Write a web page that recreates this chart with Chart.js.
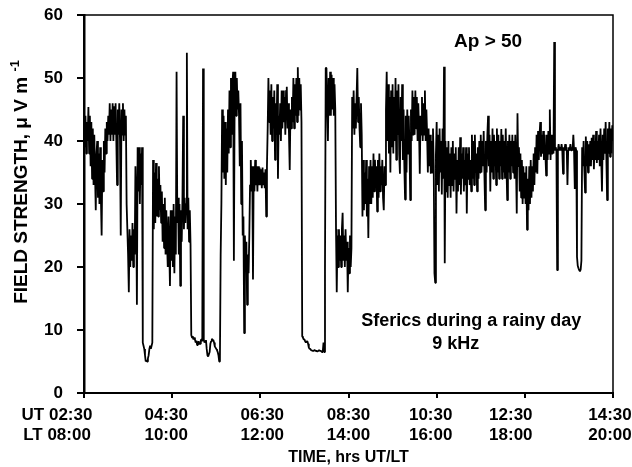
<!DOCTYPE html>
<html lang="en">
<head>
  <meta charset="UTF-8">
  <title>Sferics during a rainy day - 9 kHz</title>
  <script src="https://cdn.jsdelivr.net/npm/chart.js"></script>
  <style>
    body {
      margin: 0;
      background: white;
    }
    canvas {
      display: block;
    }
  </style>
</head>
<body>

<canvas id="sfericsChart" width="632" height="467"></canvas>

<script>
  // x axis: minutes after 02:30 UT, one reading every minute
  const SAMPLE_MIN = 1;
  const TICK_STEP = 120;
  const utLabels = ["UT 02:30", "04:30", "06:30", "08:30", "10:30", "12:30", "14:30"];
  const ltLabels = ["LT 08:00", "10:00", "12:00", "14:00", "16:00", "18:00", "20:00"];

  // field strength (uV/m), one row = 30 minutes
  const field = [
    // 02:30
    42, 39, 44, 38, 43, 40, 45.4, 38, 44, 36, 43, 34, 42, 33, 41,
    35, 29, 38, 40, 31, 38, 30, 39, 31, 25, 37, 32, 40, 35, 42,
    // 03:00
    38, 43, 40, 44, 41, 46, 40, 45, 41, 46, 40, 45.5, 41, 46, 40,
    33, 45, 41, 46, 40, 25, 45, 41, 46, 40, 45, 41, 44, 30, 26,
    // 03:30
    22, 16, 26, 20, 25, 21, 27, 20, 26, 22, 36, 31, 14, 39, 32,
    39, 30, 38, 33, 39, 8, 7.5, 7, 6, 5, 5.2, 5, 5.5, 6, 7,
    // 04:00
    7.5, 7, 7.5, 8, 37, 26, 35, 27, 36.5, 28, 34, 28, 36, 29, 33,
    27, 32, 24, 30, 23, 31, 22, 29, 24, 20, 28, 23, 17, 29, 21,
    // 04:30
    29, 20, 30, 19, 28, 22, 51, 27, 31, 22, 30, 17, 29, 24, 31,
    44, 26, 31, 27, 30, 54, 26, 31, 24, 29, 23.5, 9.2, 8.8, 9, 8.5,
    // 05:00
    8.8, 8.5, 8, 8.3, 7.6, 8, 8.2, 7.8, 7.8, 8.4, 8.5, 8.2, 51.5, 8.5, 8,
    8.2, 8.4, 7, 6, 5.8, 5.8, 6.5, 7.8, 8.2, 8.6, 8.4, 8.4, 8, 7.4, 7.2,
    // 05:30
    7, 6.8, 6.5, 6, 5, 5.5, 22, 30, 45, 35, 44, 34, 43, 33, 42,
    35, 45, 38, 48, 39, 50, 41, 49, 51, 21, 46, 51, 44, 50, 45,
    // 06:00
    48, 44, 36, 46, 30, 40, 25, 28, 9.5, 25, 20, 24, 14, 22, 19,
    25, 33, 37, 32, 36, 18, 36, 32, 37, 33, 36, 32, 36, 33, 35.8,
    // 06:30
    33, 35.5, 32.5, 35.8, 33, 35, 32.5, 35.5, 28, 36, 42, 50, 43, 48, 41,
    49, 40, 47, 42, 48, 37, 46, 41, 49, 34, 44, 41, 46, 40, 48,
    // 07:00
    42, 48, 43, 47, 41, 48, 48.6, 42, 46, 41, 35.4, 45, 42, 47, 43,
    50, 42, 49, 44, 50, 43, 51.7, 44, 50, 45, 49, 43, 9, 8.8, 8.5,
    // 07:30
    8.5, 8.2, 8, 8.2, 8.2, 7.8, 7.2, 7, 7, 6.8, 6.8, 6.7, 6.7, 6.8, 6.8,
    6.7, 6.7, 6.6, 6.6, 6.7, 6.8, 6.7, 6.7, 6.6, 6.5, 6.6, 8, 6.5, 20, 51.6,
    // 08:00
    51.6, 45, 40, 50, 44, 51, 44, 50.5, 45, 50, 44, 49, 45, 26, 16,
    25, 20, 26, 21, 25, 20, 26, 28.6, 21, 25, 20, 26, 21, 24, 16,
    // 08:30
    23, 19, 25, 20, 23, 47, 42, 48, 41, 46, 42, 47, 51.6, 43, 47,
    42, 39, 46, 41, 28, 37, 29, 35, 30, 37, 28, 34, 24.6, 36, 30,
    // 09:00
    37, 30, 36, 31, 38, 32, 37, 33, 36, 28.8, 37, 31, 38, 32, 36,
    33, 37, 31, 29, 36, 33, 45, 51, 40, 49, 38, 47, 35, 48, 39,
    // 09:30
    49, 38, 47, 40, 50, 37, 48, 41, 49, 38, 34.8, 47, 40, 49, 37,
    45, 36, 30.7, 44, 35, 45, 38, 44, 39, 30.6, 45, 40, 48, 41, 47,
    // 10:00
    41, 48, 42, 47, 40, 46, 42, 34.8, 44, 41, 47, 40, 46, 41, 48,
    40, 45, 41, 35, 42, 36, 41, 34.8, 40, 35, 42, 36, 19, 17.5, 38,
    // 10:30
    43, 33, 41, 32, 42, 35, 40, 31.5, 42, 34, 51.8, 20.6, 40, 32, 39,
    31, 40, 33, 38, 31, 39, 33, 40, 32, 38, 34, 39, 28.5, 37, 32,
    // 11:00
    39, 33, 40.6, 31.5, 38, 34, 39, 32, 37, 33, 39, 28.5, 38, 34, 39,
    33, 37, 32, 41, 34, 40, 33, 41, 35, 38, 32, 39, 34, 40, 35,
    // 11:30
    41, 35, 40, 36, 41.6, 34.6, 29, 40, 35, 41, 44, 36, 41, 32, 40,
    35, 42, 34, 41, 36, 40, 33, 42, 35, 41, 34, 40, 36, 41.9, 34,
    // 12:00
    41, 35, 40, 34, 42, 36, 30.6, 40, 35, 41, 34, 40, 36, 41, 35,
    40, 34, 41, 36, 28.5, 44.4, 36, 39, 32, 38, 31, 37, 30, 36, 31,
    // 12:30
    35, 30, 36, 25.9, 34, 29, 36, 30, 37, 31, 36, 32, 38, 33, 39,
    35, 41, 34.8, 41.6, 37, 41, 43, 37.5, 41, 38, 41.6, 37, 41, 38, 34.5,
    // 13:00
    41, 37, 41.6, 38, 45, 37, 41, 38, 41, 38, 55.7, 38.5, 39, 38.5, 19.5,
    38.5, 39.5, 38.5, 39, 38.5, 39.5, 38.5, 34.8, 39, 38.5, 39.5, 38.5, 39, 33, 38.5,
    // 13:30
    39, 38.5, 39.5, 38.5, 39, 38.5, 41, 38.5, 32.4, 39, 38.5, 21.6, 20.2, 19.8, 19.5,
    19.3, 19.6, 21, 39, 36, 40, 35.5, 31.8, 40.7, 36, 40, 35, 39.5, 36, 40,
    // 14:00
    36, 40.5, 37, 41, 35.5, 40, 37, 41.6, 36.5, 40, 37, 41, 36, 42, 37,
    32, 41, 37, 42, 38, 43, 37, 30.6, 42, 38, 43, 37.5, 42, 38, 42.5,
    // 14:30
    40
  ];

  // notes written inside the plot, placed in data units
  const notes = [
    { text: "Ap > 50", t: 550, v: 55.8, size: 19 },
    { text: "Sferics during a rainy day", t: 527, v: 11.4, size: 18 },
    { text: "9 kHz", t: 506, v: 7.8, size: 18 }
  ];

  const FONT = "Arial, 'Liberation Sans', sans-serif";
  // the scanned labels are not all centred on their ticks
  const labelShift = [-27, -6, 2, 0, -6, -14, -3];

  const points = field.map((v, i) => ({ x: i * SAMPLE_MIN, y: v }));

  // frame, x tick labels, y title and the text notes
  const framePlugin = {
    id: "framePlugin",
    afterDraw(chart) {
      const ctx = chart.ctx;
      const a = chart.chartArea;
      const xs = chart.scales.x;
      const ys = chart.scales.y;
      ctx.save();
      ctx.strokeStyle = "#000";
      ctx.lineWidth = 1.5;
      ctx.beginPath();
      ctx.moveTo(a.left, a.top);
      ctx.lineTo(a.right, a.top);
      ctx.lineTo(a.right, a.bottom);
      ctx.stroke();

      ctx.fillStyle = "#000";
      ctx.textAlign = "center";
      ctx.textBaseline = "middle";

      // two-row time labels
      ctx.font = "bold 17px " + FONT;
      for (let k = 0; k < utLabels.length; k++) {
        const px = xs.getPixelForValue(k * TICK_STEP) + labelShift[k];
        ctx.fillText(utLabels[k], px, a.bottom + 22);
        ctx.fillText(ltLabels[k], px, a.bottom + 42);
      }

      for (let n of notes) {
        ctx.font = "bold " + n.size + "px " + FONT;
        ctx.fillText(n.text, xs.getPixelForValue(n.t), ys.getPixelForValue(n.v));
      }

      // rotated y title with superscript -1
      const main = "FIELD STRENGTH, \u03bc V m ";
      const sup = "-1";
      ctx.translate(22, ys.getPixelForValue(33.5));
      ctx.rotate(-Math.PI / 2);
      ctx.font = "bold 19px " + FONT;
      const wMain = ctx.measureText(main).width;
      ctx.font = "bold 13px " + FONT;
      const wSup = ctx.measureText(sup).width;
      const x0 = -(wMain + wSup) / 2;
      ctx.textAlign = "left";
      ctx.font = "bold 19px " + FONT;
      ctx.fillText(main, x0, 0);
      ctx.font = "bold 13px " + FONT;
      ctx.fillText(sup, x0 + wMain, -7);
      ctx.restore();
    }
  };

  const ctx = document.getElementById("sfericsChart").getContext("2d");
  new Chart(ctx, {
    type: "line",
    data: {
      datasets: [{
        data: points,
        borderColor: "#000",
        borderWidth: 1.8,
        borderJoinStyle: "bevel",
        pointRadius: 0,
        tension: 0,
        fill: false
      }]
    },
    options: {
      responsive: false,
      animation: false,
      layout: { padding: { top: 15, right: 0, left: 0, bottom: 0 } },
      plugins: {
        legend: { display: false },
        tooltip: { enabled: false }
      },
      scales: {
        x: {
          type: "linear",
          min: 0,
          max: 720,
          border: { color: "#000", width: 2 },
          grid: { drawOnChartArea: false, drawTicks: true, tickLength: 5, color: "#000", lineWidth: 2 },
          ticks: { stepSize: TICK_STEP, autoSkip: false, display: false },
          title: {
            display: true,
            text: "TIME, hrs UT/LT",
            color: "#000",
            font: { family: FONT, size: 16, weight: "bold" },
            padding: { top: 0, bottom: 0 }
          },
          afterFit(scale) {
            scale.height = 74;
            scale.paddingLeft = 0;
            scale.paddingRight = 19;
          }
        },
        y: {
          min: 0,
          max: 60,
          border: { color: "#000", width: 2.5 },
          grid: { drawOnChartArea: false, drawTicks: true, tickLength: 7, color: "#000", lineWidth: 2 },
          ticks: {
            stepSize: 10,
            padding: 14,
            color: "#000",
            font: { family: FONT, size: 17, weight: "bold" }
          },
          title: { display: false },
          afterFit(scale) {
            scale.width = 84;
            scale.paddingTop = 0;
            scale.paddingBottom = 0;
          }
        }
      }
    },
    plugins: [framePlugin]
  });
</script>

</body>
</html>
